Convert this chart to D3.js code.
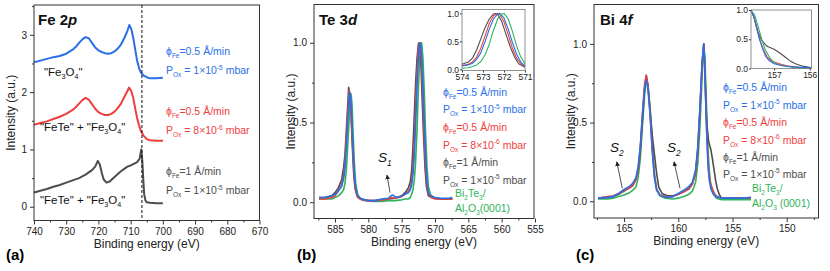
<!DOCTYPE html>
<html>
<head>
<meta charset="utf-8">
<script src="https://cdn.jsdelivr.net/npm/d3@7"></script>
<style>
  body { margin: 0; background: #fff; }
  svg { display: block; font-family: Arial, "Liberation Sans", sans-serif; }
</style>
</head>
<body>
<svg width="830" height="271"></svg>
<script>
// ---- data ----
// Fe 2p, offset spectra (binding energy eV, intensity a.u.)
const feBlue = [[740,2.52],[738,2.55],[736,2.58],[734,2.61],[732,2.63],[730,2.67],[728,2.74],[727,2.79],[726,2.86],[725,2.92],[724,2.96],[723,2.94],[722,2.86],[721,2.78],[720,2.73],[719,2.70],[718,2.68],[717,2.67],[716,2.68],[715,2.71],[714,2.76],[713,2.83],[712,2.94],[711,3.07],[710.4,3.17],[709.8,3.10],[709.2,2.95],[708.6,2.75],[708,2.55],[707.4,2.42],[706.8,2.34],[706,2.29],[705,2.26],[704,2.24],[702,2.24],[700,2.25]];
const feRed = [[740,1.43],[738,1.46],[736,1.49],[734,1.53],[732,1.57],[730,1.62],[728,1.69],[727,1.74],[726,1.80],[725,1.86],[724,1.90],[723,1.87],[722,1.79],[721,1.71],[720,1.65],[719,1.62],[718,1.60],[717,1.60],[716,1.62],[715,1.66],[714,1.72],[713,1.80],[712,1.91],[711,2.02],[710.5,2.08],[709.8,2.02],[709.2,1.90],[708.6,1.72],[708,1.55],[707.4,1.42],[706.8,1.32],[706,1.24],[705,1.18],[704,1.16],[702,1.15],[700,1.15]];
const feGray = [[740,0.25],[738,0.28],[736,0.31],[734,0.35],[732,0.38],[730,0.42],[728,0.46],[726,0.50],[724,0.56],[722,0.64],[721,0.70],[720.2,0.80],[719.6,0.74],[719,0.60],[718.4,0.48],[717.5,0.42],[716.5,0.44],[715,0.52],[714,0.57],[713,0.62],[712,0.66],[711,0.70],[710,0.72],[709,0.75],[708,0.78],[707.2,0.84],[706.7,1.00],[706.4,0.82],[706.1,0.50],[705.8,0.22],[705.4,0.11],[705,0.08],[704,0.07],[702,0.06],[700,0.06]];
const feDash = [706.5];

// Te 3d
const teGray = [[587.4,0.03],[586.5,0.03],[585.5,0.04],[585,0.06],[584.5,0.09],[584,0.14],[583.7,0.22],[583.5,0.30],[583.3,0.45],[583.1,0.60],[582.95,0.72],[582.8,0.68],[582.6,0.55],[582.4,0.35],[582.2,0.18],[582,0.09],[581.7,0.04],[581,0.02],[580,0.01],[579,0.01],[578,0.015],[577,0.02],[576,0.025],[575,0.04],[574.5,0.06],[574,0.09],[573.7,0.13],[573.5,0.20],[573.3,0.35],[573.1,0.55],[572.9,0.75],[572.7,0.90],[572.5,0.99],[572.4,1.0],[572.3,0.98],[572.1,0.85],[571.9,0.62],[571.7,0.40],[571.5,0.22],[571.3,0.10],[571,0.04],[570.5,0.03],[570,0.025],[569,0.02],[568,0.02],[567.4,0.02]];
const teRed = [[587.4,0.02],[586.5,0.02],[585.5,0.03],[585,0.04],[584.5,0.07],[584,0.11],[583.7,0.17],[583.5,0.25],[583.3,0.40],[583.1,0.55],[582.9,0.68],[582.85,0.70],[582.7,0.64],[582.5,0.48],[582.3,0.30],[582.1,0.15],[581.9,0.07],[581.6,0.03],[581,0.015],[580,0.01],[579,0.01],[578,0.015],[577,0.02],[576.5,0.03],[576,0.025],[575,0.035],[574.5,0.05],[574,0.07],[573.7,0.09],[573.5,0.13],[573.3,0.22],[573.1,0.38],[572.9,0.60],[572.7,0.82],[572.5,0.96],[572.3,1.0],[572.2,0.98],[572,0.85],[571.8,0.62],[571.6,0.38],[571.4,0.20],[571.2,0.10],[571,0.05],[570.5,0.03],[570,0.02],[569,0.02],[568,0.02],[567.4,0.02]];
const teBlue = [[587.4,0.03],[586.5,0.03],[585.5,0.04],[585,0.05],[584.5,0.07],[584,0.10],[583.7,0.15],[583.5,0.22],[583.3,0.35],[583.1,0.50],[582.9,0.64],[582.8,0.69],[582.65,0.66],[582.5,0.55],[582.3,0.35],[582.1,0.18],[581.9,0.09],[581.6,0.04],[581,0.02],[580,0.01],[579,0.01],[578,0.02],[577,0.025],[576.6,0.04],[576.3,0.045],[576,0.035],[575.5,0.03],[575,0.04],[574.5,0.05],[574,0.06],[573.7,0.08],[573.5,0.11],[573.3,0.18],[573.1,0.30],[572.9,0.50],[572.7,0.72],[572.5,0.90],[572.3,0.99],[572.2,1.0],[572,0.92],[571.8,0.72],[571.6,0.48],[571.4,0.27],[571.2,0.13],[571,0.06],[570.6,0.04],[570,0.03],[569,0.025],[568,0.025],[567.4,0.03]];
const teGreen = [[587.4,0.02],[586.5,0.02],[585.5,0.02],[585,0.03],[584.5,0.04],[584,0.06],[583.7,0.08],[583.5,0.12],[583.3,0.20],[583.1,0.34],[582.9,0.50],[582.75,0.62],[582.6,0.68],[582.45,0.62],[582.3,0.45],[582.1,0.25],[581.9,0.12],[581.6,0.05],[581.2,0.02],[580.5,0.01],[579,0.005],[578,0.005],[577,0.01],[576,0.01],[575,0.015],[574.5,0.02],[574,0.02],[573.7,0.03],[573.5,0.05],[573.3,0.08],[573.1,0.14],[572.9,0.26],[572.7,0.45],[572.5,0.70],[572.3,0.90],[572.1,0.99],[572,1.0],[571.8,0.90],[571.6,0.68],[571.4,0.42],[571.2,0.22],[571,0.10],[570.7,0.05],[570.3,0.03],[569.5,0.02],[568.5,0.02],[567.4,0.02]];
// Te 3d inset (574 - 571 eV)
const teInGray = [[574,0.09],[573.7,0.13],[573.5,0.20],[573.3,0.35],[573.1,0.55],[572.9,0.75],[572.7,0.90],[572.5,0.99],[572.4,1.0],[572.3,0.98],[572.1,0.85],[571.9,0.62],[571.7,0.40],[571.5,0.22],[571.3,0.10],[571,0.04]];
const teInRed = [[574,0.07],[573.7,0.09],[573.5,0.13],[573.3,0.22],[573.1,0.38],[572.9,0.60],[572.7,0.82],[572.5,0.96],[572.3,1.0],[572.2,0.98],[572,0.85],[571.8,0.62],[571.6,0.38],[571.4,0.20],[571.2,0.10],[571,0.05]];
const teInBlue = [[574,0.06],[573.7,0.08],[573.5,0.11],[573.3,0.18],[573.1,0.30],[572.9,0.50],[572.7,0.72],[572.5,0.90],[572.3,0.99],[572.2,1.0],[572,0.92],[571.8,0.72],[571.6,0.48],[571.4,0.27],[571.2,0.13],[571,0.06]];
const teInGreen = [[574,0.02],[573.7,0.03],[573.5,0.05],[573.3,0.08],[573.1,0.14],[572.9,0.26],[572.7,0.45],[572.5,0.70],[572.3,0.90],[572.1,0.99],[572,1.0],[571.8,0.90],[571.6,0.68],[571.4,0.42],[571.2,0.22],[571,0.10]];

// Bi 4f
const biGray = [[167.4,0.02],[166.5,0.025],[166,0.03],[165.5,0.045],[165,0.065],[164.5,0.085],[164.2,0.10],[163.9,0.14],[163.7,0.20],[163.5,0.32],[163.3,0.52],[163.1,0.72],[162.95,0.80],[162.8,0.74],[162.6,0.58],[162.4,0.42],[162.2,0.30],[162,0.18],[161.8,0.09],[161.5,0.05],[161,0.035],[160.5,0.035],[160,0.045],[159.5,0.06],[159,0.08],[158.7,0.11],[158.4,0.18],[158.2,0.32],[158,0.58],[157.8,0.88],[157.65,1.0],[157.55,0.85],[157.45,0.62],[157.35,0.48],[157.2,0.38],[157,0.33],[156.85,0.27],[156.7,0.20],[156.55,0.13],[156.4,0.08],[156.2,0.04],[156,0.02],[155,0.02],[154,0.02],[153.3,0.02]];
const biRed = [[167.4,0.02],[166.5,0.03],[166,0.035],[165.5,0.05],[165,0.07],[164.5,0.085],[164.2,0.10],[163.9,0.14],[163.7,0.20],[163.5,0.34],[163.3,0.56],[163.1,0.75],[162.95,0.80],[162.8,0.74],[162.6,0.56],[162.4,0.33],[162.2,0.16],[162,0.08],[161.7,0.04],[161.2,0.03],[160.5,0.03],[160,0.045],[159.5,0.06],[159,0.085],[158.7,0.11],[158.4,0.18],[158.2,0.33],[158,0.58],[157.8,0.87],[157.65,1.0],[157.57,0.88],[157.48,0.66],[157.4,0.48],[157.3,0.32],[157.2,0.20],[157.05,0.12],[156.85,0.08],[156.6,0.04],[156.3,0.025],[156,0.02],[155,0.02],[154,0.02],[153.3,0.02]];
const biBlue = [[167.4,0.02],[166.5,0.025],[166,0.03],[165.5,0.05],[165,0.075],[164.5,0.095],[164.2,0.115],[163.9,0.15],[163.7,0.22],[163.5,0.35],[163.3,0.55],[163.1,0.72],[162.95,0.77],[162.8,0.72],[162.6,0.55],[162.4,0.32],[162.2,0.15],[162,0.07],[161.7,0.04],[161.2,0.025],[160.5,0.03],[160,0.05],[159.5,0.07],[159,0.095],[158.7,0.12],[158.4,0.20],[158.2,0.35],[158,0.60],[157.8,0.88],[157.65,1.0],[157.58,0.90],[157.5,0.72],[157.42,0.52],[157.33,0.35],[157.25,0.22],[157.15,0.14],[157,0.08],[156.8,0.05],[156.5,0.03],[156,0.02],[155,0.02],[154,0.02],[153.3,0.025]];
const biGreen = [[167.4,0.015],[166.5,0.015],[166,0.02],[165.5,0.03],[165,0.04],[164.5,0.055],[164.2,0.07],[163.9,0.09],[163.7,0.15],[163.5,0.27],[163.3,0.48],[163.1,0.68],[162.95,0.76],[162.8,0.74],[162.6,0.60],[162.4,0.38],[162.2,0.18],[162,0.08],[161.7,0.035],[161.2,0.02],[160.5,0.015],[160,0.02],[159.5,0.03],[159,0.045],[158.7,0.065],[158.4,0.12],[158.2,0.24],[158,0.47],[157.8,0.80],[157.65,0.98],[157.55,0.92],[157.45,0.72],[157.35,0.50],[157.25,0.32],[157.12,0.18],[157,0.10],[156.8,0.05],[156.5,0.02],[156,0.01],[155,0.01],[154,0.01],[153.3,0.01]];
// Bi 4f inset (157.65 - 155.95 eV)
const biInGray = [[157.65,1.0],[157.55,0.85],[157.45,0.62],[157.35,0.48],[157.2,0.38],[157,0.33],[156.85,0.27],[156.7,0.20],[156.55,0.13],[156.4,0.08],[156.2,0.04],[156,0.02]];
const biInRed = [[157.65,1.0],[157.57,0.88],[157.48,0.66],[157.4,0.48],[157.3,0.32],[157.2,0.20],[157.05,0.12],[156.85,0.08],[156.6,0.04],[156.3,0.02],[155.95,0.01]];
const biInBlue = [[157.65,1.0],[157.58,0.90],[157.5,0.72],[157.42,0.52],[157.33,0.35],[157.25,0.22],[157.15,0.14],[157,0.08],[156.8,0.05],[156.5,0.03],[156.2,0.02],[155.95,0.01]];
const biInGreen = [[157.65,0.98],[157.55,0.92],[157.45,0.72],[157.35,0.50],[157.25,0.32],[157.12,0.18],[157,0.10],[156.8,0.05],[156.5,0.02],[156.2,0.01],[155.95,0.0]];

// ticks
const feXTicks = [740,730,720,710,700,690,680,670];
const feXMinor = [735,725,715,705,695,685,675];
const feYTicks = [0,1,2,3];
const feYMinor = [0.5,1.5,2.5,3.5];
const teXTicks = [585,580,575,570,565,560,555];
const teXMinor = [587.5,582.5,577.5,572.5,567.5,562.5,557.5];
const biXTicks = [165,160,155,150];
const biXMinor = [167.5,162.5,157.5,152.5,147.5];
const normYTicks = [0,0.5,1.0];
const normYMinor = [0.25,0.75];
const teInXTicks = [574,573,572,571];
const biInXTicks = [157,156];
const inYTicks = [0,0.5,1.0];

// colours
const cBlue = "#2a6fe6", cRed = "#ef3e3e", cGray = "#4d4d4d", cGreen = "#2eb35c";

const svg = d3.select("svg");

// marker for the small arrows
svg.append("defs").append("marker")
    .attr("id", "arr").attr("viewBox", "0 0 8 8").attr("refX", 7).attr("refY", 4)
    .attr("markerWidth", 6).attr("markerHeight", 6).attr("orient", "auto")
    .append("path").attr("d", "M0,0 L8,4 L0,8 Z").attr("fill", "#222");

// text with sub/superscripts
function rich(sel, parts, size) {
    let off = 0;
    parts.forEach(([t, m]) => {
        const target = m === "sub" ? size * 0.3 : m === "sup" ? -size * 0.42 : 0;
        const ts = sel.append("tspan").attr("dy", target - off).text(t);
        if (m) ts.attr("font-size", size * 0.62);
        off = target;
    });
    return sel;
}

function label(g, x, y, parts, color, size, extra) {
    const t = g.append("text").attr("x", x).attr("y", y)
        .attr("fill", color).attr("font-size", size);
    if (extra) extra(t);
    return rich(t, parts, size);
}

// one framed plot (main panel or inset)
function plot(p) {
    const g = svg.append("g");
    const x = d3.scaleLinear().domain(p.xDomain).range([p.left, p.right]);
    const y = d3.scaleLinear().domain(p.yDomain).range([p.bottom, p.top]);
    if (p.inset) {
        g.append("rect").attr("x", p.left).attr("y", p.top)
            .attr("width", p.right - p.left).attr("height", p.bottom - p.top).attr("fill", "#fff");
    }
    const line = d3.line().x(d => x(d[0])).y(d => y(d[1]));
    p.series.forEach(s => {
        g.append("path").attr("d", line(s.data))
            .attr("fill", "none").attr("stroke", s.color)
            .attr("stroke-width", p.lw).attr("stroke-linejoin", "round");
    });

    const fs = p.inset ? 8.5 : 10;
    const tl = p.inset ? 2 : 4;
    const styleAxis = a => {
        a.select(".domain").remove();
        a.attr("font-family", null).attr("font-size", fs);
        a.selectAll("line").attr("stroke", "#333");
        a.selectAll("text").attr("fill", "#222");
    };
    g.append("g").attr("transform", `translate(0,${p.bottom})`)
        .call(d3.axisBottom(x).tickValues(p.xTicks).tickSize(tl).tickPadding(p.inset ? 1 : 3).tickFormat(d3.format("d")))
        .call(styleAxis);
    if (p.xMinor) g.append("g").attr("transform", `translate(0,${p.bottom})`)
        .call(d3.axisBottom(x).tickValues(p.xMinor).tickSize(tl / 2).tickFormat(""))
        .call(styleAxis);
    g.append("g").attr("transform", `translate(${p.left},0)`)
        .call(d3.axisLeft(y).tickValues(p.yTicks).tickSize(tl).tickPadding(p.inset ? 1 : 3).tickFormat(p.yFmt))
        .call(styleAxis);
    if (p.yMinor) g.append("g").attr("transform", `translate(${p.left},0)`)
        .call(d3.axisLeft(y).tickValues(p.yMinor).tickSize(tl / 2).tickFormat(""))
        .call(styleAxis);

    g.append("rect").attr("x", p.left).attr("y", p.top)
        .attr("width", p.right - p.left).attr("height", p.bottom - p.top)
        .attr("fill", "none").attr("stroke", p.inset ? "#777" : "#333").attr("stroke-width", p.inset ? 0.8 : 1);

    if (!p.inset) {
        g.append("text").attr("x", (p.left + p.right) / 2).attr("y", p.bottom + 27)
            .attr("text-anchor", "middle").attr("font-size", 12).attr("fill", "#222")
            .text("Binding energy (eV)");
        g.append("text").attr("transform", `translate(${p.left - 19},${(p.top + p.bottom) / 2}) rotate(-90)`)
            .attr("text-anchor", "middle").attr("font-size", 12).attr("fill", "#222")
            .text("Intensity (a.u.)");
    }
    return { g, x, y };
}

function arrow(pl, from, to) {
    pl.g.append("line")
        .attr("x1", pl.x(from[0])).attr("y1", pl.y(from[1]))
        .attr("x2", pl.x(to[0])).attr("y2", pl.y(to[1]))
        .attr("stroke", "#222").attr("stroke-width", 0.8).attr("marker-end", "url(#arr)");
}

const phi05 = [["ϕ", ""], ["Fe", "sub"], ["=0.5 Å/min", ""]];
const phi1 = [["ϕ", ""], ["Fe", "sub"], ["=1 Å/min", ""]];
const pOx5 = [["P", ""], ["Ox", "sub"], [" = 1×10", ""], ["-5", "sup"], [" mbar", ""]];
const pOx6 = [["P", ""], ["Ox", "sub"], [" = 8×10", ""], ["-6", "sup"], [" mbar", ""]];

// ---------- (a) Fe 2p ----------
const pa = plot({
    left: 34, right: 259.5, top: 5, bottom: 220.5,
    xDomain: [740, 670], yDomain: [-0.24, 3.52],
    xTicks: feXTicks, xMinor: feXMinor, yTicks: feYTicks, yMinor: feYMinor,
    yFmt: d3.format("d"), lw: 2,
    series: [{ data: feGray, color: cGray }, { data: feRed, color: cRed }, { data: feBlue, color: cBlue }]
});
pa.g.selectAll("line.dash").data(feDash).enter().append("line")
    .attr("x1", d => pa.x(d)).attr("x2", d => pa.x(d))
    .attr("y1", 5).attr("y2", 220.5)
    .attr("stroke", "#111").attr("stroke-width", 1).attr("stroke-dasharray", "3,2");

label(pa.g, 38, 25, [["Fe 2", ""]], "#111", 15, t => t.attr("font-weight", "bold"))
    .append("tspan").attr("font-style", "italic").text("p");
label(pa.g, 44, 76, [['"Fe', ""], ["3", "sub"], ["O", ""], ["4", "sub"], ['"', ""]], "#111", 11.5);
label(pa.g, 40, 131, [['"FeTe" + "Fe', ""], ["3", "sub"], ["O", ""], ["4", "sub"], ['"', ""]], "#111", 11.5);
label(pa.g, 40, 204, [['"FeTe" + "Fe', ""], ["3", "sub"], ["O", ""], ["4", "sub"], ['"', ""]], "#111", 11.5);
label(pa.g, 166, 55, phi05, cBlue, 10.5);
label(pa.g, 166, 74, pOx5, cBlue, 10.5);
label(pa.g, 166, 115, phi05, cRed, 10.5);
label(pa.g, 166, 134, pOx6, cRed, 10.5);
label(pa.g, 166, 175, phi1, cGray, 10.5);
label(pa.g, 166, 194, pOx5, cGray, 10.5);
svg.append("text").attr("x", 6).attr("y", 260).attr("font-size", 15).attr("font-weight", "bold").text("(a)");

// ---------- (b) Te 3d ----------
const pb = plot({
    left: 314, right: 534, top: 4.5, bottom: 218.5,
    xDomain: [588.15, 555.15], yDomain: [-0.102, 1.24],
    xTicks: teXTicks, xMinor: teXMinor, yTicks: normYTicks, yMinor: normYMinor,
    yFmt: d3.format(".1f"), lw: 1.6,
    series: [{ data: teGreen, color: cGreen }, { data: teGray, color: cGray }, { data: teRed, color: cRed }, { data: teBlue, color: cBlue }]
});
label(pb.g, 319, 25, [["Te 3", ""]], "#111", 15, t => t.attr("font-weight", "bold"))
    .append("tspan").attr("font-style", "italic").text("d");
label(pb.g, 378, 162, [["S", ""], ["1", "sub"]], "#111", 13.5, t => t.attr("font-style", "italic"));
arrow(pb, [576.75, 0.06], [577.2, 0.17]);
label(pb.g, 443, 95.5, phi05, cBlue, 10.5);
label(pb.g, 443, 113, pOx5, cBlue, 10.5);
label(pb.g, 443, 130.5, phi05, cRed, 10.5);
label(pb.g, 443, 148.5, pOx6, cRed, 10.5);
label(pb.g, 443, 166, phi1, cGray, 10.5);
label(pb.g, 443, 183.5, pOx5, cGray, 10.5);
label(pb.g, 455, 197, [["Bi", ""], ["2", "sub"], ["Te", ""], ["3", "sub"], ["/", ""]], cGreen, 10.5);
label(pb.g, 455, 212, [["Al", ""], ["2", "sub"], ["O", ""], ["3", "sub"], ["(0001)", ""]], cGreen, 10.5);
plot({
    inset: true, left: 462, right: 525, top: 9.5, bottom: 70.5,
    xDomain: [574, 571], yDomain: [-0.02, 1.07],
    xTicks: teInXTicks, yTicks: inYTicks, yFmt: d3.format(".1f"), lw: 1.1,
    series: [{ data: teInGray, color: cGray }, { data: teInRed, color: cRed }, { data: teInBlue, color: cBlue }, { data: teInGreen, color: cGreen }]
});
svg.append("text").attr("x", 297).attr("y", 260).attr("font-size", 15).attr("font-weight", "bold").text("(b)");

// ---------- (c) Bi 4f ----------
const pc = plot({
    left: 594, right: 818.5, top: 4.5, bottom: 218,
    xDomain: [167.77, 147.07], yDomain: [-0.106, 1.25],
    xTicks: biXTicks, xMinor: biXMinor, yTicks: normYTicks, yMinor: normYMinor,
    yFmt: d3.format(".1f"), lw: 1.6,
    series: [{ data: biGreen, color: cGreen }, { data: biGray, color: cGray }, { data: biRed, color: cRed }, { data: biBlue, color: cBlue }]
});
label(pc.g, 600, 25, [["Bi 4", ""]], "#111", 15, t => t.attr("font-weight", "bold"))
    .append("tspan").attr("font-style", "italic").text("f");
label(pc.g, 610, 152, [["S", ""], ["2", "sub"]], "#111", 13.5, t => t.attr("font-style", "italic"));
label(pc.g, 667, 152, [["S", ""], ["2", "sub"]], "#111", 13.5, t => t.attr("font-style", "italic"));
arrow(pc, [165.16, 0.083], [165.67, 0.25]);
arrow(pc, [159.84, 0.083], [160.39, 0.25]);
label(pc.g, 723, 91, phi05, cBlue, 10.5);
label(pc.g, 723, 108.7, pOx5, cBlue, 10.5);
label(pc.g, 723, 126, phi05, cRed, 10.5);
label(pc.g, 723, 143.7, pOx6, cRed, 10.5);
label(pc.g, 723, 161, phi1, cGray, 10.5);
label(pc.g, 723, 177.7, pOx5, cGray, 10.5);
label(pc.g, 752, 192, [["Bi", ""], ["2", "sub"], ["Te", ""], ["3", "sub"], ["/", ""]], cGreen, 10.5);
label(pc.g, 752, 207, [["Al", ""], ["2", "sub"], ["O", ""], ["3", "sub"], [" (0001)", ""]], cGreen, 10.5);
plot({
    inset: true, left: 751, right: 811.5, top: 10, bottom: 68.5,
    xDomain: [157.65, 155.95], yDomain: [0, 1],
    xTicks: biInXTicks, yTicks: inYTicks, yFmt: d3.format(".1f"), lw: 1.1,
    series: [{ data: biInGray, color: cGray }, { data: biInRed, color: cRed }, { data: biInGreen, color: cGreen }, { data: biInBlue, color: cBlue }]
});
svg.append("text").attr("x", 576).attr("y", 260).attr("font-size", 15).attr("font-weight", "bold").text("(c)");
</script>
</body>
</html>
